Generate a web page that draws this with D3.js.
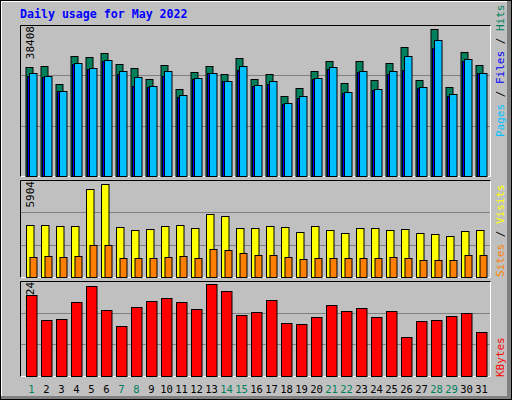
<!DOCTYPE html>
<head>
<meta charset="utf-8">
<style>
  body { margin: 0; background: #fff; }
  text { font-family: "DejaVu Sans Mono", monospace; }
</style>
</head>
<body>
<svg id="chart" width="512" height="400"></svg>
<script src="https://cdn.jsdelivr.net/npm/d3@7"></script>
<script>
var days = d3.range(1, 32)
var weekends = [1, 7, 8, 14, 15, 21, 22, 28, 29]

var hits = [28482, 28743, 24040, 31356, 31095, 32140, 29266, 28220, 25346, 29004, 22733, 27175, 28743, 26653, 30833, 25346, 26653, 20904, 22994, 27437, 30050, 24301, 30050, 25085, 29527, 33708, 25085, 38408, 23256, 32401, 29004]
var files = [26914, 26130, 22211, 29527, 28220, 30311, 27437, 25869, 23517, 27437, 21165, 25607, 26914, 24824, 28743, 23778, 24824, 19075, 20904, 25607, 28482, 21949, 27437, 22733, 27437, 31356, 23256, 35537, 21427, 30572, 26914]
var pages = [26130, 25869, 22211, 29266, 27959, 30050, 26653, 23517, 23256, 26130, 20643, 25346, 26914, 24824, 27698, 23517, 24040, 18814, 20382, 25346, 27959, 21688, 27175, 22472, 26653, 27698, 22994, 33447, 20904, 30050, 26914]
var visits = [3293, 3293, 3230, 3230, 5586, 5904, 3166, 2975, 3038, 3230, 3293, 3102, 3994, 3867, 3102, 3102, 3230, 3166, 2847, 3230, 2975, 2784, 3102, 3102, 2975, 3038, 2784, 2720, 2593, 2911, 2975]
var sites = [1255, 1319, 1255, 1319, 2019, 2019, 1191, 1191, 1191, 1255, 1319, 1191, 1764, 1701, 1510, 1382, 1382, 1255, 1127, 1191, 1191, 1191, 1191, 1191, 1255, 1191, 1064, 1064, 1064, 1382, 1382]
var kbytes = [2101761, 1447686, 1473849, 1918620, 2337228, 1709316, 1290708, 1787805, 1944783, 2023272, 1918620, 1735479, 2389524, 2206413, 1578501, 1656990, 1970946, 1369197, 1343034, 1526175, 1840131, 1683153, 1761642, 1526175, 1683153, 1002915, 1421523, 1447686, 1552338, 1630827, 1133730]

var svg = d3.select("#chart")

// background with 3d edge
svg.append("rect").attr("x", 0).attr("y", 0).attr("width", 512).attr("height", 400).attr("fill", "#000")
svg.append("rect").attr("x", 1).attr("y", 1).attr("width", 510).attr("height", 398).attr("fill", "#808080")
svg.append("rect").attr("x", 1).attr("y", 1).attr("width", 506).attr("height", 395).attr("fill", "#fff")
svg.append("rect").attr("x", 2).attr("y", 2).attr("width", 505).attr("height", 394).attr("fill", "#c0c0c0")

svg.append("text").attr("x", 20).attr("y", 18)
    .attr("fill", "#0000ff").attr("font-weight", "bold").attr("font-size", "11.6px")
    .text("Daily usage for May 2022")

var x = d3.scaleBand().domain(days).range([23, 488]).padding(0)

var panels = [
    { top: 25, bottom: 177, base: 176, peak: 29, max: 38408 },
    { top: 180, bottom: 278, base: 277, peak: 184, max: 5904 },
    { top: 281, bottom: 377, base: 376, peak: 284, max: 2389524 }
]

panels.forEach(function (p) {
    p.y = d3.scaleLinear().domain([0, p.max]).range([p.base, p.peak])
    // sunken frame
    svg.append("rect").attr("x", 20).attr("y", p.top).attr("width", 471).attr("height", p.bottom - p.top).attr("fill", "#c0c0c0")
    svg.append("path").attr("d", `M20.5,${p.bottom}V${p.top + 0.5}H491`).attr("stroke", "#000").attr("fill", "none")
    svg.append("path").attr("d", `M20.5,${p.bottom - 0.5}H490.5V${p.top + 0.5}`).attr("stroke", "#fff").attr("fill", "none")
    var step = (p.base - p.top) / 3
    ;[1, 2].forEach(function (k) {
        var gy = Math.round(p.base - step * k) + 0.5
        svg.append("line").attr("x1", 21).attr("x2", 490).attr("y1", gy).attr("y2", gy).attr("stroke", "#808080")
    })
    svg.append("text")
        .attr("transform", `translate(34,${p.top + 1}) rotate(-90)`)
        .attr("text-anchor", "end").attr("font-size", "11px").attr("fill", "#000")
        .text(p.max)
})

function bars(panel, data, off, w, color) {
    svg.append("g").selectAll("rect").data(data).join("rect")
        .attr("x", (d, i) => x(days[i]) + off + 0.5)
        .attr("y", d => Math.round(panel.y(d)) + 0.5)
        .attr("width", w)
        .attr("height", d => panel.base - Math.round(panel.y(d)))
        .attr("fill", color).attr("stroke", "#000")
}

bars(panels[0], hits, 2.5, 7, "#00805c")
bars(panels[0], pages, 4, 3, "#0000ff")
bars(panels[0], files, 6, 7.5, "#00c0ff")
bars(panels[1], visits, 3, 7.5, "#ffff00")
bars(panels[1], sites, 6.5, 7, "#ff8000")
bars(panels[2], kbytes, 3, 10.5, "#ff0000")

// right side legends, rotated
function legend(y0, parts) {
    var t = svg.append("text")
        .attr("transform", `translate(504,${y0}) rotate(-90)`)
        .attr("font-size", "11px")
    parts.forEach(function (p) { t.append("tspan").attr("fill", p[1]).text(p[0]) })
}
legend(137, [["Pages", "#00c0ff"], [" / ", "#000"], ["Files", "#0000ff"], [" / ", "#000"], ["Hits", "#00805c"]])
legend(277, [["Sites", "#ff8000"], [" / ", "#000"], ["Visits", "#ffff00"]])
legend(377, [["KBytes", "#ff0000"]])

// day labels
svg.append("g").selectAll("text").data(days).join("text")
    .attr("x", d => x(d) + x.bandwidth() / 2 + 1)
    .attr("y", 393)
    .attr("text-anchor", "middle").attr("font-size", "10.5px")
    .attr("fill", d => weekends.includes(d) ? "#00805c" : "#000")
    .text(d => d)
</script>
</body>
